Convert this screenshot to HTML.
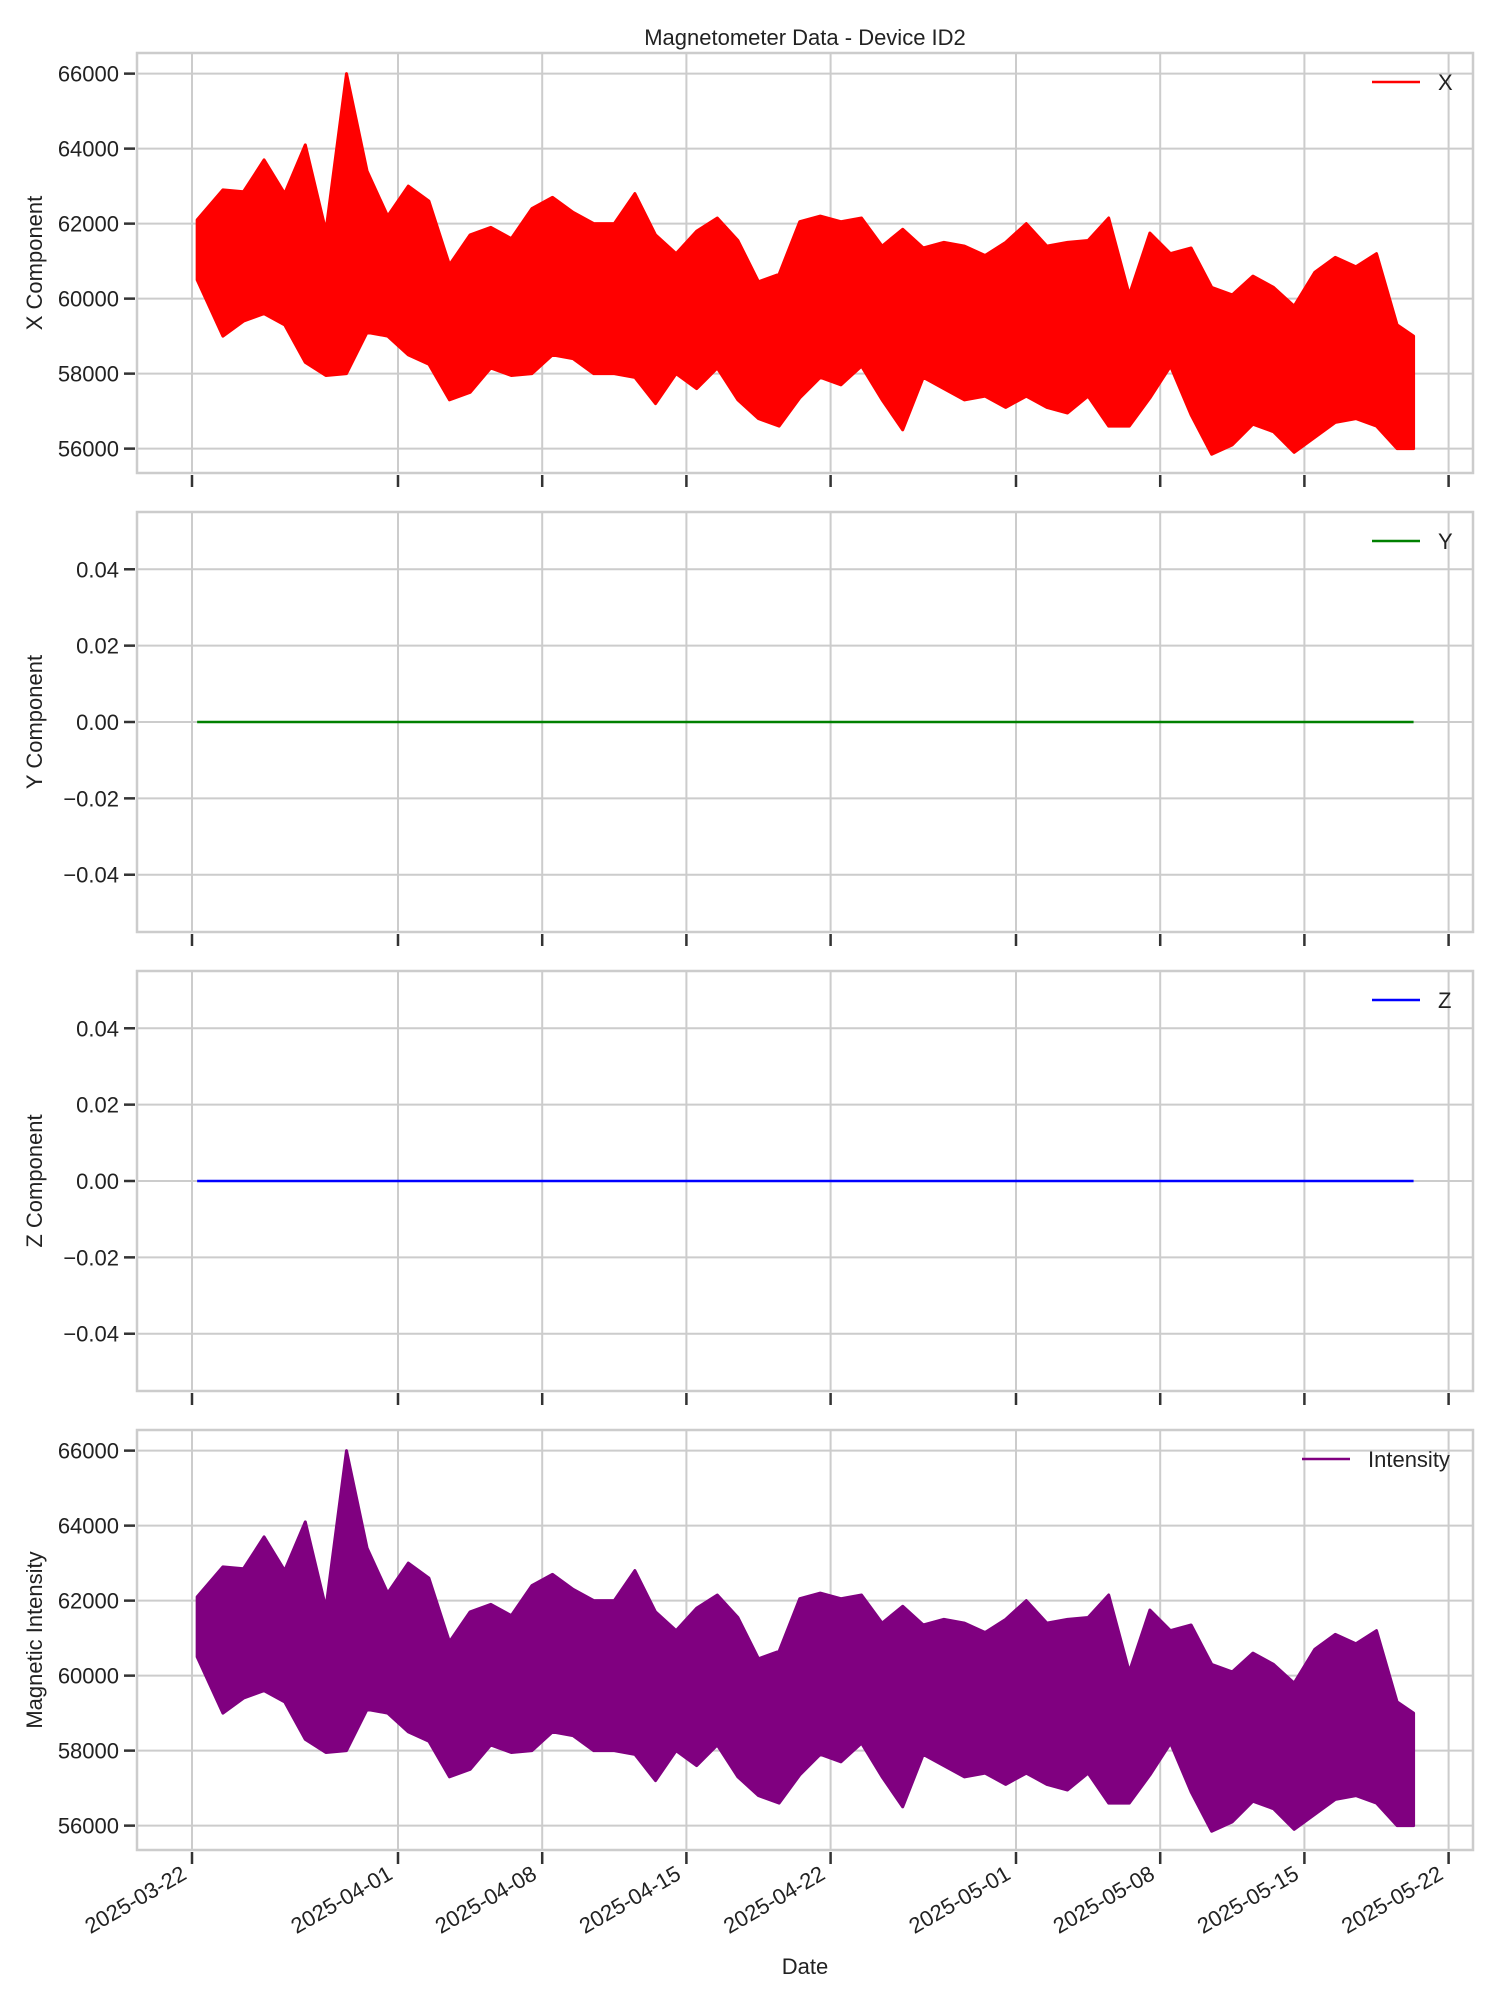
<!DOCTYPE html>
<html><head><meta charset="utf-8"><style>
html,body{margin:0;padding:0;background:#fff}
svg{display:block;font-family:"Liberation Sans",Arial,sans-serif}
</style></head><body>
<svg id="chart" width="1500" height="2000" viewBox="0 0 1500 2000" xmlns="http://www.w3.org/2000/svg">
<text x="805" y="45" font-size="22" text-anchor="middle" fill="#222">Magnetometer Data - Device ID2</text>
<text x="805" y="1974" font-size="22" text-anchor="middle" fill="#222">Date</text>
</svg>
<script>
// day offsets from 2025-03-22
const days = [0.25,1.5,2.5,3.5,4.5,5.5,6.5,7.5,8.5,9.5,10.5,11.5,12.5,13.5,14.5,15.5,16.5,17.5,18.5,19.5,20.5,21.5,22.5,23.5,24.5,25.5,26.5,27.5,28.5,29.5,30.5,31.5,32.5,33.5,34.5,35.5,36.5,37.5,38.5,39.5,40.5,41.5,42.5,43.5,44.5,45.5,46.5,47.5,48.5,49.5,50.5,51.5,52.5,53.5,54.5,55.5,56.5,57.5,58.5,59.3];
const xHigh = [62100,62900,62850,63700,62800,64100,61800,66000,63400,62200,63000,62600,60900,61700,61900,61600,62400,62700,62300,62000,62000,62800,61700,61200,61800,62150,61550,60450,60650,62050,62200,62050,62150,61400,61850,61350,61500,61400,61150,61500,62000,61400,61500,61550,62150,60100,61750,61200,61350,60300,60100,60600,60300,59800,60700,61100,60850,61200,59300,59000];
const xLow = [60500,59000,59400,59600,59300,58300,57950,58000,59100,59000,58500,58250,57300,57500,58150,57950,58000,58500,58400,58000,58000,57900,57200,58000,57600,58150,57300,56800,56600,57350,57900,57700,58200,57300,56500,57900,57600,57300,57400,57100,57400,57100,56950,57400,56600,56600,57350,58200,56900,55850,56100,56650,56450,55900,56300,56700,56800,56600,56000,56000];
const iHigh = [62100,62900,62850,63700,62800,64100,61800,66000,63400,62200,63000,62600,60900,61700,61900,61600,62400,62700,62300,62000,62000,62800,61700,61200,61800,62150,61550,60450,60650,62050,62200,62050,62150,61400,61850,61350,61500,61400,61150,61500,62000,61400,61500,61550,62150,60100,61750,61200,61350,60300,60100,60600,60300,59800,60700,61100,60850,61200,59300,59000];
const iLow = [60500,59000,59400,59600,59300,58300,57950,58000,59100,59000,58500,58250,57300,57500,58150,57950,58000,58500,58400,58000,58000,57900,57200,58000,57600,58150,57300,56800,56600,57350,57900,57700,58200,57300,56500,57900,57600,57300,57400,57100,57400,57100,56950,57400,56600,56600,57350,58200,56900,55850,56100,56650,56450,55900,56300,56700,56800,56600,56000,56000];
const yFlat = [0,0];
const zFlat = [0,0];
const flatDays = [0.25,59.3];
const dateTicks = [0,10,17,24,31,40,47,54,61];
const dateLabels = ["2025-03-22","2025-04-01","2025-04-08","2025-04-15","2025-04-22","2025-05-01","2025-05-08","2025-05-15","2025-05-22"];
const bigTicks = [56000,58000,60000,62000,64000,66000];
const smallTicks = [-0.04,-0.02,0,0.02,0.04];
const smallTickLabels = ["\u22120.04","\u22120.02","0.00","0.02","0.04"];

const NS="http://www.w3.org/2000/svg";
const svg=document.getElementById('chart');
const L=137,R=1473,H=420;
const tops=[53,512,971,1430];
function xs(d){return 192+d*20.6;}
function mk(tag,attrs,parent){const e=document.createElementNS(NS,tag);for(const k in attrs)e.setAttribute(k,attrs[k]);(parent||svg).appendChild(e);return e;}

const panels=[
 {name:'x',label:'X Component',min:55350,max:66550,ticks:bigTicks,tl:bigTicks.map(String),color:'#ff0000',leg:'X',band:[xHigh,xLow]},
 {name:'y',label:'Y Component',min:-0.055,max:0.055,ticks:smallTicks,tl:smallTickLabels,color:'#008000',leg:'Y',flat:yFlat},
 {name:'z',label:'Z Component',min:-0.055,max:0.055,ticks:smallTicks,tl:smallTickLabels,color:'#0000ff',leg:'Z',flat:zFlat},
 {name:'intensity',label:'Magnetic Intensity',min:55350,max:66550,ticks:bigTicks,tl:bigTicks.map(String),color:'#800080',leg:'Intensity',band:[iHigh,iLow]}
];

panels.forEach((p,pi)=>{
 const T=tops[pi],B=T+H;
 const ys=v=>B-(v-p.min)/(p.max-p.min)*H;
 const g=mk('g',{});
 
 
 dateTicks.forEach(d=>{const ln=mk('line',{x1:xs(d),x2:xs(d),y1:T,y2:B,stroke:'#cccccc','stroke-width':2},g);
  
  const tk=mk('line',{x1:xs(d),x2:xs(d),y1:B+2,y2:B+14,stroke:'#333','stroke-width':2.5},g);
  });
 p.ticks.forEach((v,i)=>{const y=ys(v);
  const ln=mk('line',{x1:L,x2:R,y1:y,y2:y,stroke:'#cccccc','stroke-width':2},g);
  
  const tk=mk('line',{x1:L-13,x2:L-2,y1:y,y2:y,stroke:'#333','stroke-width':2.5},g);
  
  const t=mk('text',{x:L-18,y:y+8,'font-size':22,'text-anchor':'end',fill:'#222'},g);t.textContent=p.tl[i];
  });
 if(p.band){
  let pts=days.map((d,i)=>xs(d)+','+ys(p.band[0][i]));
  let lo=days.map((d,i)=>xs(d)+','+ys(p.band[1][i])).reverse();
  const poly=mk('polygon',{points:pts.concat(lo).join(' '),fill:p.color,stroke:p.color,'stroke-width':3,'stroke-linejoin':'round'},g);
  
 } else {
  const pl=mk('polyline',{points:flatDays.map((d,i)=>xs(d)+','+ys(p.flat[i])).join(' '),fill:'none',stroke:p.color,'stroke-width':2.5},g);
  
 }
 const fr=mk('rect',{x:L,y:T,width:R-L,height:H,fill:'none',stroke:'#cccccc','stroke-width':2.5},g);
 
 const cy=T+H/2;
 const yl=mk('text',{x:42,y:cy,'font-size':22,'text-anchor':'middle',fill:'#222',transform:'rotate(-90 42 '+cy+')'},g);
 yl.textContent=p.label;
 const lw=p.leg==='Intensity'?1302:1372;
 const leg=mk('g',{},g);
 mk('line',{x1:lw,x2:lw+48,y1:T+29,y2:T+29,stroke:p.color,'stroke-width':2.5},leg);
 const lt=mk('text',{x:lw+66,y:T+37,'font-size':22,fill:'#222'},leg);lt.textContent=p.leg;
});
dateTicks.forEach((d,i)=>{const x=xs(d)-4,y=1878;
 const t=mk('text',{x:x,y:y,'font-size':22,'text-anchor':'end',fill:'#222',transform:'rotate(-30 '+x+' '+y+')'});
 t.textContent=dateLabels[i];});
</script>
</body></html>
